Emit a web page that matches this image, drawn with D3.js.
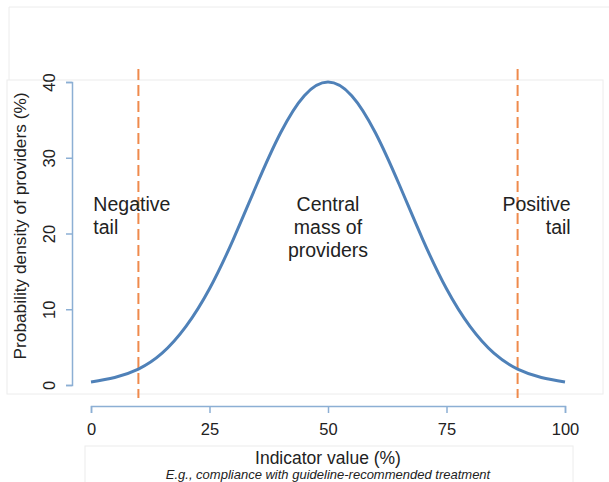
<!DOCTYPE html>
<html>
<head>
    <meta charset="utf-8">
    <title></title>
    <style>
        body { margin: 0; background: #fff; }
        text { font-family: "Liberation Sans", Arial, sans-serif; fill: #222; }
        .axis path, .axis line { stroke: #8cafd4; stroke-width: 1.5px; }
        .axis text { font-size: 16.5px; fill: #222; }
        .frame { fill: none; stroke: #ececec; stroke-width: 1px; }
    </style>
</head>
<body>
    <script src="https://cdn.jsdelivr.net/npm/d3@7"></script>
    <script>
        // indicator value (%) and density (%)
        var indicator = [0, 5, 10, 15, 20, 25, 30, 35, 40, 45, 50, 55, 60, 65, 70, 75, 80, 85, 90, 95, 100];
        var density = [0.4, 1.0, 2.1, 4.2, 7.7, 12.7, 19.2, 26.5, 33.3, 38.2, 40, 38.2, 33.3, 26.5, 19.2, 12.7, 7.7, 4.2, 2.1, 1.0, 0.4];
        var cutoffs = [10, 90];
        var xTicks = [0, 25, 50, 75, 100];
        var yTicks = [0, 10, 20, 30, 40];
        var regionLabels = [
            { x: 0.5, lines: ["Negative", "tail"], anchor: "start" },
            { x: 50, lines: ["Central", "mass of", "providers"], anchor: "middle" },
            { x: 101.2, lines: ["Positive", "tail"], anchor: "end" }
        ];

        var width = 609,
            height = 482;

        var svg = d3.select("body").append("svg")
            .attr("width", width)
            .attr("height", height);

        // faint layout boxes
        svg.append("path").attr("class", "frame")
            .attr("d", "M9,80 V7 H609");
        svg.append("rect").attr("class", "frame")
            .attr("x", 7).attr("y", 80).attr("width", 596).attr("height", 314);
        svg.append("rect").attr("class", "frame")
            .attr("x", 85).attr("y", 446).attr("width", 488).attr("height", 40);

        var x = d3.scaleLinear().domain([0, 100]).range([91, 565]);
        var y = d3.scaleLinear().domain([0, 40]).range([385, 82]);

        // x axis
        svg.append("g")
            .attr("class", "axis")
            .attr("transform", "translate(0,406)")
            .call(d3.axisBottom(x).tickValues(xTicks).tickSize(7).tickPadding(10));

        // y axis with rotated labels
        var yAxis = svg.append("g")
            .attr("class", "axis")
            .attr("transform", "translate(72,0)")
            .call(d3.axisLeft(y).tickValues(yTicks).tickSize(6));
        yAxis.selectAll(".tick text")
            .attr("x", 0)
            .attr("y", -17)
            .attr("dy", 0)
            .attr("transform", "rotate(-90)")
            .style("text-anchor", "middle");

        // cutoff lines
        svg.append("g")
            .selectAll("line")
            .data(cutoffs)
            .enter()
            .append("line")
            .attr("x1", function(d) { return x(d); })
            .attr("x2", function(d) { return x(d); })
            .attr("y1", 69)
            .attr("y2", 398)
            .attr("stroke", "#ef8a4c")
            .attr("stroke-width", 2)
            .attr("stroke-dasharray", "11,5");

        // density curve
        var line = d3.line()
            .x(function(d, i) { return x(indicator[i]); })
            .y(function(d) { return y(d); })
            .curve(d3.curveNatural);
        svg.append("path")
            .datum(density)
            .attr("fill", "none")
            .attr("stroke", "#4f81b8")
            .attr("stroke-width", 3)
            .attr("d", line);

        // region labels
        regionLabels.forEach(function(r) {
            var t = svg.append("text")
                .attr("x", x(r.x))
                .attr("y", 211)
                .attr("text-anchor", r.anchor)
                .style("font-size", "19.5px");
            r.lines.forEach(function(s, i) {
                t.append("tspan")
                    .attr("x", x(r.x))
                    .attr("dy", i == 0 ? 0 : 23)
                    .text(s);
            });
        });

        // axis titles
        svg.append("text")
            .attr("transform", "translate(26,226) rotate(-90)")
            .attr("text-anchor", "middle")
            .style("font-size", "17.3px")
            .text("Probability density of providers (%)");
        svg.append("text")
            .attr("x", 328)
            .attr("y", 464)
            .attr("text-anchor", "middle")
            .style("font-size", "17.5px")
            .text("Indicator value (%)");
        svg.append("text")
            .attr("x", 328)
            .attr("y", 479)
            .attr("text-anchor", "middle")
            .style("font-size", "13px")
            .style("font-style", "italic")
            .text("E.g., compliance with guideline-recommended treatment");
    </script>
</body>
</html>
